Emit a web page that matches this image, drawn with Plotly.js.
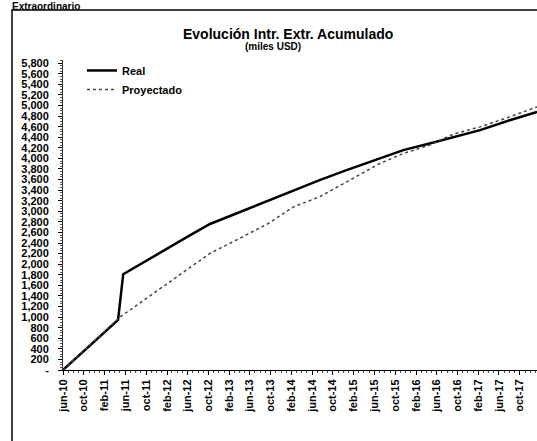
<!DOCTYPE html>
<html>
<head>
<meta charset="utf-8">
<script src="https://cdn.plot.ly/plotly-3.0.1.min.js"></script>
<style>
  html, body { margin: 0; padding: 0; background: #fff; }
  #chart { width: 537px; height: 441px; }
</style>
</head>
<body>
<div id="chart"></div>
<script>
// ---- data ----
const realDates = ['2010-06-01','2010-10-01','2011-02-01','2011-04-20','2011-05-20','2011-09-05','2012-01-20','2012-06-01','2012-10-10','2013-01-18','2013-04-20','2013-09-18','2014-02-12','2014-07-15','2014-12-20','2015-07-03','2015-11-18','2016-04-20','2016-09-06','2017-02-10','2017-08-03','2018-01-10'];
const realValues = [0, 360, 720, 945, 1810, 2015, 2267, 2520, 2760, 2890, 3010, 3200, 3395, 3589, 3778, 3999, 4156, 4282, 4407, 4534, 4722, 4880];

const projDates = ['2010-06-01','2011-05-01','2012-10-10','2013-01-18','2013-04-20','2013-09-18','2014-02-12','2014-07-15','2014-12-20','2015-07-03','2015-11-18','2016-04-20','2016-09-06','2017-02-10','2017-08-03','2018-01-10'];
const projValues = [0, 1000, 2204, 2361, 2518, 2771, 3085, 3274, 3557, 3904, 4093, 4250, 4458, 4596, 4785, 4974];

const xTickVals = ['2010-06-01','2010-10-01','2011-02-01','2011-06-01','2011-10-01','2012-02-01','2012-06-01','2012-10-01','2013-02-01','2013-06-01','2013-10-01','2014-02-01','2014-06-01','2014-10-01','2015-02-01','2015-06-01','2015-10-01','2016-02-01','2016-06-01','2016-10-01','2017-02-01','2017-06-01','2017-10-01'];
const xTickText = ['jun-10','oct-10','feb-11','jun-11','oct-11','feb-12','jun-12','oct-12','feb-13','jun-13','oct-13','feb-14','jun-14','oct-14','feb-15','jun-15','oct-15','feb-16','jun-16','oct-16','feb-17','jun-17','oct-17'];

const yTickVals = [0,200,400,600,800,1000,1200,1400,1600,1800,2000,2200,2400,2600,2800,3000,3200,3400,3600,3800,4000,4200,4400,4600,4800,5000,5200,5400,5600,5800];
const yTickText = ['-','200','400','600','800','1,000','1,200','1,400','1,600','1,800','2,000','2,200','2,400','2,600','2,800','3,000','3,200','3,400','3,600','3,800','4,000','4,200','4,400','4,600','4,800','5,000','5,200','5,400','5,600','5,800'];

const seriesNames = ['Real', 'Proyectado'];
const chartTitle = 'Evolución Intr. Extr. Acumulado';
const chartSubtitle = '(miles USD)';
const headerText = 'Extraordinario';

const FONT = 'Liberation Sans, Arial, sans-serif';

const traces = [
  {
    x: realDates, y: realValues, name: seriesNames[0], type: 'scatter', mode: 'lines',
    line: { color: '#000000', width: 2.5 }
  },
  {
    x: projDates, y: projValues, name: seriesNames[1], type: 'scatter', mode: 'lines',
    line: { color: '#444444', width: 1.5, dash: 'dot' }
  }
];

const layout = {
  width: 537, height: 441,
  margin: { l: 63, r: 0, t: 60, b: 71, pad: 0 },
  paper_bgcolor: '#ffffff', plot_bgcolor: '#ffffff',
  font: { family: FONT, color: '#000', size: 11, weight: 'bold' },
  showlegend: true,
  legend: {
    x: 0.04, y: 1.013, xanchor: 'left', yanchor: 'top',
    bgcolor: 'rgba(0,0,0,0)', borderwidth: 0,
    font: { family: FONT, size: 11, color: '#000', weight: 'bold' },
    tracegroupgap: 0
  },
  xaxis: {
    type: 'date',
    range: ['2010-06-01', '2018-01-10'],
    tickmode: 'array', tickvals: xTickVals, ticktext: xTickText,
    tickangle: -90,
    tickfont: { family: FONT, size: 11, color: '#000', weight: 'bold' },
    ticks: 'outside', ticklen: 4, tickcolor: '#000', tickwidth: 1,
    minor: { dtick: 'M1', tick0: '2010-06-01', ticks: 'outside', ticklen: 2, tickcolor: '#444', showgrid: false },
    showline: true, linecolor: '#000', linewidth: 1,
    showgrid: false, zeroline: false, fixedrange: true
  },
  yaxis: {
    range: [0, 5860],
    tickmode: 'array', tickvals: yTickVals, ticktext: yTickText,
    tickfont: { family: FONT, size: 11, color: '#000', weight: 'bold' },
    ticks: 'outside', ticklen: 4, tickcolor: '#000', tickwidth: 1,
    minor: { dtick: 50, ticks: 'outside', ticklen: 2, tickcolor: '#555', showgrid: false },
    showline: true, linecolor: '#333', linewidth: 1,
    showgrid: false, zeroline: false, fixedrange: true,
    ticklabelstandoff: 7
  },
  shapes: [
    { type: 'rect', xref: 'paper', yref: 'paper',
      x0: -0.1076, x1: 1.2, y0: -0.4, y1: 1.161,
      line: { color: '#000', width: 1.5 }, fillcolor: 'rgba(0,0,0,0)', layer: 'below' }
  ],
  annotations: [
    { text: chartTitle, xref: 'paper', yref: 'paper', x: (288 - 63) / 474, y: (370 - 34) / 310,
      xanchor: 'center', yanchor: 'middle', showarrow: false,
      font: { family: FONT, size: 14, color: '#000', weight: 'bold' } },
    { text: chartSubtitle, xref: 'paper', yref: 'paper', x: (273 - 63) / 474, y: (370 - 46) / 310,
      xanchor: 'center', yanchor: 'middle', showarrow: false,
      font: { family: FONT, size: 10, color: '#000', weight: 'bold' } },
    { text: headerText, xref: 'paper', yref: 'paper', x: (10 - 63) / 474, y: (370 + 1) / 310,
      xanchor: 'left', yanchor: 'top', showarrow: false,
      font: { family: FONT, size: 10, color: '#000', weight: 'bold' } }
  ]
};

Plotly.newPlot('chart', traces, layout, { displayModeBar: false, staticPlot: true });
</script>
</body>
</html>
